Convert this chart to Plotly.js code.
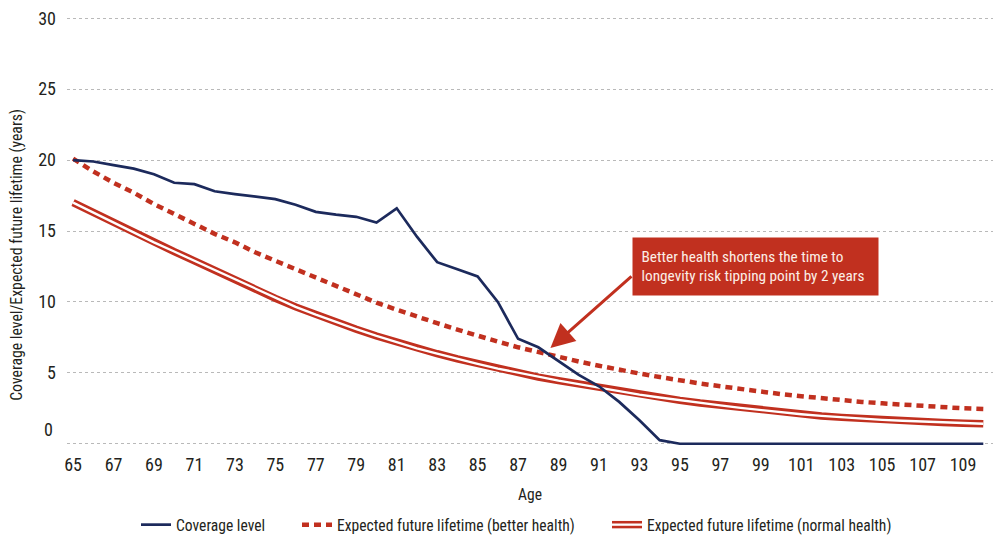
<!DOCTYPE html>
<html>
<head>
<meta charset="utf-8">
<script src="https://cdn.plot.ly/plotly-3.0.1.min.js"></script>
<style>html,body{margin:0;padding:0;background:#fff;}#chart{width:994px;height:537px;}</style>
</head>
<body>
<div id="chart"></div>
<script>
const ages = [65,66,67,68,69,70,71,72,73,74,75,76,77,78,79,80,81,82,83,84,85,86,87,88,89,90,91,92,93,94,95,96,97,98,99,100,101,102,103,104,105,106,107,108,109,110];
const coverageLevel = [20.0,19.9,19.65,19.4,19.0,18.4,18.3,17.8,17.6,17.45,17.25,16.85,16.35,16.15,16.0,15.6,16.6,14.6,12.8,12.3,11.8,10.0,7.4,6.8,5.8,4.85,4.05,2.95,1.65,0.25,0,0,0,0,0,0,0,0,0,0,0,0,0,0,0,0];
const lifetimeBetter = [20.1,19.2,18.4,17.7,16.9,16.2,15.5,14.8,14.2,13.5,12.9,12.3,11.7,11.1,10.5,9.95,9.45,8.95,8.5,8.05,7.6,7.2,6.8,6.45,6.1,5.8,5.5,5.2,4.95,4.7,4.45,4.25,4.05,3.85,3.65,3.5,3.35,3.2,3.05,2.95,2.85,2.75,2.65,2.55,2.5,2.45];
const lifetimeNormal = [17.0,16.3,15.55,14.85,14.2,13.55,12.9,12.22,11.55,10.9,10.25,9.65,9.1,8.58,8.08,7.6,7.15,6.73,6.35,5.98,5.63,5.3,5.0,4.7,4.45,4.2,3.95,3.7,3.47,3.26,3.06,2.87,2.7,2.53,2.37,2.22,2.08,1.96,1.86,1.77,1.69,1.62,1.56,1.5,1.45,1.41];
const seriesNames = ['Coverage level','Expected future lifetime (better health)','Expected future lifetime (normal health)'];
const xTicks = [65,67,69,71,73,75,77,79,81,83,85,87,89,91,93,95,97,99,101,103,105,107,109];
const yTicks = [0,5,10,15,20,25,30];
const yTickText = ['','5','10','15','20','25','30'];
const yTitle = 'Coverage level/Expected future lifetime (years)';
const noteLines = ['Better health shortens the time to', 'longevity risk tipping point by 2 years'];

const NAVY = '#1c2a5c';
const RED = '#c1301f';
const TXT = '#231f20';

// choose a regular-weight condensed face (the reference uses a narrow sans)
const cv = document.createElement('canvas').getContext('2d');
function widthOf(txt, fam, size, stretch) {
  cv.font = size + 'px ' + fam;
  if ('fontStretch' in cv) cv.fontStretch = stretch || 'normal';
  return cv.measureText(txt).width;
}
function installed(name) {
  const s = 'Coverage level 0123456789';
  return ['monospace', 'serif'].some(function (fb) {
    return Math.abs(widthOf(s, "'" + name + "'," + fb, 100) - widthOf(s, fb, 100)) > 0.5;
  });
}
const options = [
  {fam: 'Liberation Sans Narrow'}, {fam: 'Roboto Condensed'}, {fam: 'Noto Sans Condensed'},
  {fam: 'Noto Sans', stretch: 'condensed'}, {fam: 'Open Sans', stretch: 'condensed'},
  {fam: 'DejaVu Sans Condensed'}, {fam: 'DejaVu Sans', stretch: 'condensed'}
];
let chosen = {fam: 'DejaVu Sans'};
for (const o of options) {
  if (!installed(o.fam)) continue;
  if (o.stretch) {
    const q = "'" + o.fam + "'";
    if (widthOf('Coverage level', q, 100, o.stretch) > 0.95 * widthOf('Coverage level', q, 100)) continue;
  }
  chosen = o; break;
}
const FONT = "'" + chosen.fam + "', sans-serif";
const STRETCH = chosen.stretch || 'normal';
if (chosen.stretch) {
  const st = document.createElement('style');
  st.textContent = '#chart text { font-stretch: ' + STRETCH + '; }';
  document.head.appendChild(st);
}
function fit(txt, target, maxSize) {
  return Math.min(maxSize, 100 * target / widthOf(txt, FONT, 100, STRETCH));
}
const tickSize = fit('65', 18, 18);
const legendSize = fit(seriesNames[1], 238, 17);
const titleSize = fit(yTitle, 292, 17);
const noteSize = fit(noteLines[1], 223, 17);
const ageSize = fit('Age', 24, 18);

const traces = [
  {x: ages, y: lifetimeNormal, name: seriesNames[2], mode: 'lines', legendrank: 3, legendwidth: 245,
   line: {color: RED, width: 7.4}, hoverinfo: 'skip'},
  {x: ages, y: lifetimeNormal, name: 'normal-inner', mode: 'lines', showlegend: false,
   line: {color: '#ffffff', width: 2.3}, hoverinfo: 'skip'},
  {x: ages, y: lifetimeBetter, name: seriesNames[1], mode: 'lines', legendrank: 2, legendwidth: 265,
   line: {color: RED, width: 4.5, dash: '7px,5px'}},
  {x: ages, y: coverageLevel, name: seriesNames[0], mode: 'lines', legendrank: 1, legendwidth: 116,
   line: {color: NAVY, width: 2.7}}
];

const layout = {
  width: 994, height: 537,
  margin: {l: 67, r: 1, t: 14, b: 89},
  paper_bgcolor: '#ffffff', plot_bgcolor: '#ffffff',
  font: {family: FONT, color: TXT, size: legendSize, weight: 400},
  showlegend: true,
  legend: {orientation: 'h', xref: 'container', yref: 'container', x: 136/994, xanchor: 'left',
           y: 12/537, yanchor: 'middle', font: {family: FONT, size: legendSize, color: TXT},
           bgcolor: 'rgba(0,0,0,0)', itemwidth: 30, traceorder: 'normal'},
  xaxis: {range: [64.7, 110.48], tickvals: xTicks, showgrid: false, zeroline: false, showline: false,
          ticks: '', tickfont: {family: FONT, size: tickSize, color: TXT}, ticklabelstandoff: 4,
          title: {text: 'Age', font: {family: FONT, size: ageSize, color: TXT}, standoff: 15}},
  yaxis: {range: [-0.3, 30.3], tickvals: yTicks, ticktext: yTickText, showgrid: true,
          gridcolor: '#b9b9b9', griddash: 'dot', gridwidth: 1, zeroline: false, showline: false,
          ticks: '', tickfont: {family: FONT, size: tickSize, color: TXT}, ticklabelstandoff: 10},
  annotations: [
    {xref: 'paper', yref: 'y', x: -0.013, y: 1.0, xanchor: 'right', yanchor: 'middle',
     text: '0', showarrow: false, font: {family: FONT, size: tickSize, color: TXT}},
    {xref: 'paper', yref: 'paper', x: -0.054, y: 0.445, xanchor: 'center', yanchor: 'middle',
     textangle: -90, text: yTitle, showarrow: false,
     font: {family: FONT, size: titleSize, color: TXT}},
    {x: 88.6, y: 6.75, ax: 92.68, ay: 11.9, axref: 'x', ayref: 'y', text: '', showarrow: true,
     arrowhead: 2, arrowsize: 1.6, arrowwidth: 3, arrowcolor: RED},
    {x: 98.74, y: 12.5, xanchor: 'center', yanchor: 'middle',
     text: '\u00a0' + noteLines[0] + '<br>\u00a0' + noteLines[1], showarrow: false,
     align: 'left', bgcolor: RED, borderpad: 5, width: 235, height: 47,
     font: {family: FONT, size: noteSize, color: '#fbeee6'}}
  ]
};

Plotly.newPlot('chart', traces, layout, {displayModeBar: false, staticPlot: true}).then(function (gd) {
  // draw the double-line legend symbol for the normal-health series
  gd.querySelectorAll('.legend .traces').forEach(function (it) {
    const t = it.querySelector('.legendtext');
    if (t && t.textContent === seriesNames[2]) {
      const p = it.querySelector('.legendlines path');
      if (p) {
        const c = p.cloneNode(true);
        c.style.stroke = '#ffffff';
        c.style.strokeWidth = '2.3px';
        p.parentNode.appendChild(c);
      }
    }
  });
});
</script>
</body>
</html>
